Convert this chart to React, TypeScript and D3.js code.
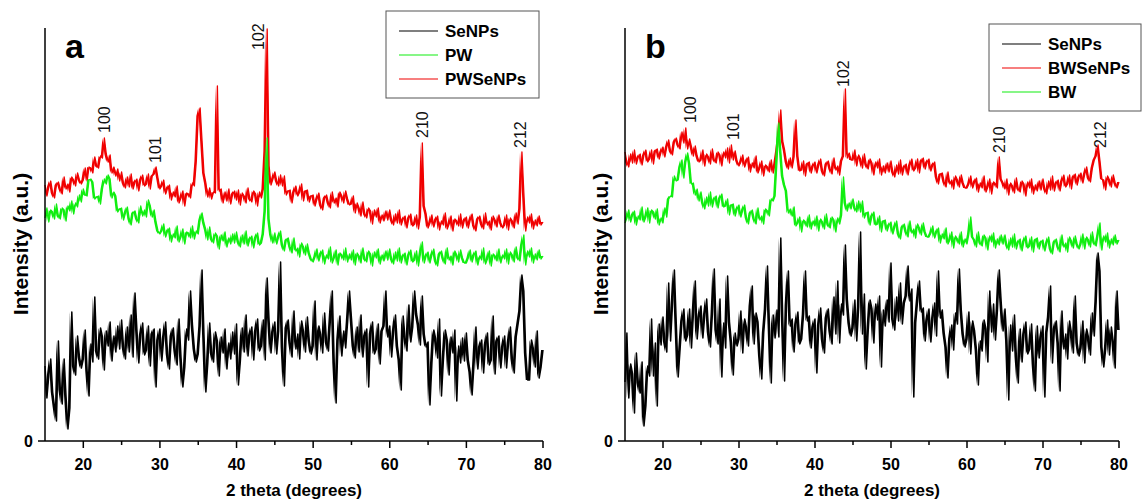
import React, { useEffect } from 'react';
import * as d3 from 'd3';

// XRD scans, sampled every 0.25 deg from 15 to 80 (2 theta), intensity in arbitrary units
const thetaStart = 15;
const thetaEnd = 80;
const thetaStep = 0.25;

// panel a
const seNPsA = [
    75, 43, 66, 82, 49, 34, 20, 100, 51, 37, 82, 44, 12, 33, 129, 75, 66, 105, 84, 73,
    82, 111, 70, 45, 97, 79, 144, 90, 82, 113, 104, 71, 110, 95, 119, 80, 105, 89, 115, 92,
    121, 94, 82, 114, 89, 126, 84, 148, 111, 78, 106, 118, 86, 91, 115, 75, 107, 112, 54, 101,
    112, 80, 103, 119, 87, 72, 105, 113, 90, 76, 122, 84, 54, 74, 112, 101, 150, 116, 92, 79,
    87, 115, 171, 106, 49, 78, 118, 88, 79, 109, 100, 65, 104, 88, 112, 72, 98, 82, 109, 87,
    117, 56, 80, 113, 89, 126, 85, 106, 114, 81, 109, 122, 90, 95, 121, 81, 163, 120, 88, 109,
    119, 87, 110, 179, 94, 55, 113, 121, 98, 84, 130, 92, 107, 82, 120, 109, 89, 124, 100, 87,
    95, 140, 81, 115, 106, 88, 128, 99, 90, 121, 150, 78, 38, 101, 125, 85, 110, 93, 119, 150,
    123, 95, 83, 114, 89, 126, 84, 105, 112, 54, 107, 119, 87, 92, 117, 77, 110, 115, 150, 104,
    115, 84, 109, 126, 95, 81, 51, 125, 103, 90, 136, 99, 114, 150, 127, 116, 96, 145, 107, 94,
    99, 36, 78, 111, 102, 83, 122, 45, 81, 111, 101, 66, 104, 88, 111, 40, 95, 78, 103, 80,
    108, 81, 69, 46, 77, 114, 72, 94, 101, 68, 96, 108, 76, 81, 125, 67, 100, 105, 73, 94,
    105, 73, 98, 114, 82, 68, 104, 117, 130, 166, 150, 88, 61, 61, 101, 92, 74, 110, 63, 74,
    91,
];
const pw = [
    223, 233, 219, 231, 229, 222, 237, 225, 222, 233, 231, 220, 235, 230, 240, 227, 238, 234, 246, 239,
    252, 246, 245, 261, 262, 259, 242, 244, 245, 237, 252, 262, 257, 266, 262, 243, 249, 245, 229, 232,
    233, 221, 228, 234, 222, 216, 228, 230, 222, 218, 235, 225, 231, 224, 241, 235, 224, 231, 219, 210,
    207, 210, 217, 204, 210, 213, 199, 207, 203, 215, 199, 204, 212, 197, 209, 208, 203, 215, 202, 210,
    207, 221, 228, 218, 211, 201, 214, 202, 198, 208, 205, 192, 206, 200, 209, 194, 203, 197, 207, 198,
    209, 199, 194, 206, 197, 210, 195, 202, 205, 193, 203, 208, 196, 198, 207, 230, 303, 222, 206, 198,
    208, 197, 204, 210, 196, 190, 201, 203, 194, 188, 203, 190, 193, 184, 198, 194, 186, 197, 188, 182,
    179, 184, 192, 180, 187, 191, 177, 186, 182, 194, 178, 183, 191, 176, 188, 186, 181, 193, 179, 187,
    181, 191, 176, 188, 185, 178, 193, 182, 179, 190, 187, 175, 189, 183, 192, 177, 186, 180, 190, 181,
    192, 182, 177, 189, 180, 193, 178, 185, 188, 176, 186, 191, 179, 181, 190, 175, 187, 199, 178, 185,
    189, 178, 186, 192, 180, 175, 187, 190, 182, 177, 193, 181, 185, 176, 190, 186, 179, 191, 183, 178,
    178, 183, 191, 179, 186, 190, 176, 185, 181, 193, 177, 182, 190, 175, 187, 185, 180, 192, 178, 186,
    182, 192, 177, 189, 186, 179, 194, 183, 180, 196, 206, 176, 190, 184, 193, 178, 187, 181, 191, 182,
    185,
];
const pwSeNPs = [
    256, 245, 254, 260, 248, 243, 256, 259, 252, 247, 264, 252, 257, 249, 264, 261, 255, 268, 261, 257,
    261, 273, 260, 274, 273, 268, 284, 275, 273, 285, 283, 303, 287, 279, 286, 268, 274, 265, 272, 260,
    269, 258, 253, 264, 254, 267, 252, 259, 262, 250, 261, 266, 255, 257, 267, 252, 265, 267, 274, 263,
    252, 255, 261, 247, 253, 256, 241, 249, 244, 255, 238, 243, 250, 235, 248, 247, 243, 258, 255, 280,
    325, 333, 300, 268, 258, 244, 253, 242, 249, 248, 355, 250, 252, 238, 249, 240, 252, 237, 247, 250,
    241, 251, 236, 248, 245, 238, 253, 242, 239, 250, 247, 235, 249, 243, 252, 290, 412, 275, 256, 262,
    269, 260, 255, 266, 255, 265, 246, 250, 251, 238, 249, 255, 245, 249, 257, 240, 250, 251, 239, 245,
    246, 235, 242, 248, 236, 231, 243, 246, 238, 233, 249, 238, 243, 234, 249, 245, 238, 250, 242, 236,
    237, 245, 228, 238, 233, 225, 239, 227, 223, 233, 230, 217, 231, 224, 233, 218, 226, 220, 230, 221,
    231, 221, 216, 227, 218, 231, 216, 222, 225, 213, 223, 227, 215, 217, 226, 212, 224, 298, 235, 227,
    213, 218, 226, 214, 221, 225, 211, 220, 216, 228, 212, 217, 225, 210, 222, 220, 215, 227, 213, 221,
    224, 213, 221, 227, 215, 210, 222, 225, 217, 212, 228, 216, 220, 211, 225, 221, 214, 226, 218, 213,
    216, 226, 211, 223, 220, 213, 228, 217, 232, 289, 248, 210, 224, 218, 227, 212, 221, 215, 225, 216,
    219,
];

// panel b
const seNPsB = [
    59, 108, 43, 77, 67, 28, 88, 58, 48, 79, 15, 35, 75, 65, 122, 65, 98, 35, 117, 96,
    124, 99, 89, 158, 100, 137, 171, 117, 64, 92, 120, 132, 100, 106, 132, 93, 127, 160, 102, 124,
    135, 103, 126, 142, 109, 94, 127, 172, 111, 97, 142, 64, 118, 93, 165, 119, 99, 66, 108, 95,
    102, 130, 88, 122, 113, 95, 135, 155, 97, 128, 119, 85, 62, 108, 132, 175, 117, 58, 126, 103,
    131, 104, 203, 124, 60, 136, 170, 115, 122, 89, 117, 129, 97, 102, 127, 170, 120, 125, 93, 114,
    122, 68, 116, 133, 102, 88, 123, 132, 110, 97, 144, 107, 160, 98, 137, 126, 196, 142, 118, 105,
    113, 141, 100, 134, 209, 107, 147, 72, 110, 141, 132, 98, 137, 121, 145, 74, 131, 115, 141, 119,
    178, 122, 111, 144, 120, 158, 117, 138, 145, 175, 140, 152, 44, 118, 140, 160, 129, 133, 100, 121,
    132, 99, 122, 138, 105, 170, 123, 131, 108, 94, 63, 102, 116, 91, 128, 117, 172, 131, 107, 94,
    102, 129, 87, 120, 110, 91, 56, 100, 90, 121, 112, 79, 150, 109, 137, 101, 130, 171, 139, 110,
    132, 101, 41, 116, 90, 126, 84, 58, 112, 79, 107, 119, 87, 92, 117, 77, 50, 115, 83, 104,
    115, 44, 108, 124, 155, 78, 112, 120, 98, 50, 130, 92, 107, 82, 120, 108, 88, 145, 98, 85,
    93, 120, 78, 112, 103, 86, 128, 105, 140, 188, 170, 94, 74, 92, 121, 86, 114, 99, 73, 150,
    111,
];
const bwSeNPs = [
    289, 279, 274, 287, 278, 291, 277, 284, 287, 276, 286, 291, 279, 282, 291, 277, 290, 292, 282, 289,
    294, 284, 294, 301, 290, 286, 299, 303, 296, 292, 309, 298, 313, 292, 302, 294, 285, 295, 285, 279,
    281, 291, 275, 287, 284, 277, 292, 281, 278, 289, 286, 275, 289, 283, 293, 278, 296, 281, 290, 280,
    275, 279, 286, 274, 280, 284, 269, 278, 273, 285, 268, 273, 280, 265, 276, 274, 269, 281, 268, 277,
    290, 305, 331, 300, 291, 279, 272, 283, 273, 284, 321, 285, 270, 271, 280, 265, 277, 279, 268, 275,
    279, 268, 276, 282, 270, 265, 277, 280, 272, 267, 283, 271, 275, 266, 280, 285, 352, 283, 288, 281,
    281, 291, 275, 286, 282, 273, 287, 276, 272, 282, 278, 266, 279, 273, 282, 266, 275, 268, 278, 269,
    280, 269, 264, 276, 267, 281, 266, 274, 277, 266, 276, 282, 270, 273, 282, 268, 280, 283, 272, 279,
    282, 270, 276, 279, 264, 257, 267, 268, 259, 254, 269, 257, 261, 252, 265, 261, 254, 266, 258, 253,
    253, 257, 265, 253, 259, 263, 249, 258, 253, 265, 249, 254, 262, 247, 259, 257, 253, 284, 262, 258,
    252, 262, 246, 258, 255, 248, 263, 252, 249, 260, 257, 245, 259, 253, 262, 247, 256, 250, 260, 251,
    262, 252, 247, 260, 251, 265, 250, 258, 261, 250, 260, 266, 254, 257, 266, 252, 264, 267, 256, 264,
    268, 258, 267, 274, 263, 259, 273, 281, 285, 296, 280, 262, 261, 251, 265, 261, 254, 266, 258, 253,
    259,
];
const bw = [
    218, 223, 231, 219, 226, 230, 216, 225, 221, 234, 219, 224, 233, 218, 231, 229, 222, 232, 216, 223,
    218, 233, 224, 242, 245, 244, 265, 260, 261, 274, 281, 263, 279, 288, 278, 257, 258, 246, 252, 240,
    249, 238, 232, 244, 235, 249, 234, 242, 245, 233, 243, 247, 234, 235, 242, 226, 236, 237, 225, 232,
    236, 224, 231, 236, 223, 217, 228, 231, 222, 217, 233, 221, 225, 217, 232, 230, 225, 242, 240, 245,
    280, 318, 290, 265, 256, 250, 228, 232, 225, 234, 215, 218, 224, 209, 221, 219, 214, 226, 212, 220,
    215, 225, 210, 222, 219, 212, 227, 216, 213, 224, 221, 209, 223, 217, 226, 264, 238, 230, 238, 232,
    242, 233, 229, 240, 229, 240, 223, 228, 229, 216, 225, 229, 216, 217, 225, 209, 220, 221, 210, 216,
    219, 207, 214, 220, 207, 202, 214, 217, 209, 204, 220, 208, 212, 203, 217, 213, 206, 218, 209, 204,
    204, 208, 215, 203, 209, 213, 198, 207, 202, 213, 197, 201, 209, 193, 205, 202, 197, 209, 194, 202,
    197, 207, 224, 204, 201, 194, 209, 198, 195, 206, 203, 191, 205, 199, 208, 193, 202, 196, 206, 197,
    206, 196, 191, 203, 194, 207, 192, 199, 202, 190, 200, 205, 193, 195, 204, 189, 201, 203, 192, 199,
    201, 190, 198, 204, 192, 187, 199, 202, 194, 189, 206, 194, 198, 189, 204, 200, 193, 205, 197, 192,
    197, 207, 192, 204, 201, 194, 209, 198, 195, 206, 218, 191, 205, 199, 208, 193, 202, 196, 206, 197,
    201,
];

// hkl reflections marked above the peaks
const hklLabels = ['100', '101', '102', '210', '212'];
const hklThetaA = [22.7, 29.4, 42.9, 64.3, 77.1];
const hklLevelA = [308, 278, 391, 303, 293];
const hklThetaB = [23.55, 29.2, 43.8, 64.3, 77.5];
const hklLevelB = [318, 301, 354, 288, 293];

const xMajorTicks = [20, 30, 40, 50, 60, 70, 80];
const xMinorTicks = [25, 35, 45, 55, 65, 75];
const yMax = 412;

const BLACK = '#000000';
const GREEN = '#10ee10';
const RED = '#f00000';
const FONT = '"Liberation Sans", Arial, sans-serif';

const TOP = 29;
const BOTTOM = 441;

const Panel = ({ letter, left, right, series, legend, labelTheta, labelLevel }) => {
    const x = d3.scaleLinear().domain([thetaStart, thetaEnd]).range([left, right]);
    const y = d3.scaleLinear().domain([0, yMax]).range([BOTTOM, TOP]);
    const line = d3.line<number>()
        .x((_, i) => x(thetaStart + i * thetaStep))
        .y((d) => y(d));
    // shade between each sample and the next one so the noisy scan reads as a dense trace
    const band = d3.area<number>()
        .x((_, i) => x(thetaStart + i * thetaStep))
        .y0((d) => y(d))
        .y1((d, i, arr) => y(arr[i + 1] ?? d));
    const midX = (left + right) / 2;

    return (
        <g>
            {/* draw order: black first, coloured scans on top */}
            {series.drawOrder.map((s) => (
                <g key={s.name}>
                    <path d={band(s.values) || ''} fill={s.color} stroke="none" />
                    <path d={line(s.values) || ''} fill="none" stroke={s.color} strokeWidth={s.width} strokeLinejoin="round" />
                </g>
            ))}

            {hklLabels.map((h, i) => (
                <text
                    key={h}
                    transform={`translate(${x(labelTheta[i])},${y(labelLevel[i])}) rotate(-90)`}
                    dy="0.35em"
                    fontSize={16}
                    fontFamily={FONT}
                    fill="#111"
                >{h}</text>
            ))}

            {/* axes */}
            <line x1={left} x2={left} y1={TOP - 1} y2={BOTTOM} stroke="#000" strokeWidth={1.5} />
            <line x1={left} x2={right} y1={BOTTOM} y2={BOTTOM} stroke="#000" strokeWidth={1.5} />
            <line x1={left - 7} x2={left} y1={BOTTOM} y2={BOTTOM} stroke="#000" strokeWidth={1.5} />
            <text x={left - 12} y={BOTTOM} dy="0.35em" textAnchor="end" fontSize={16} fontWeight="bold" fontFamily={FONT}>0</text>
            {xMajorTicks.map((t) => (
                <g key={t}>
                    <line x1={x(t)} x2={x(t)} y1={BOTTOM} y2={BOTTOM + 7} stroke="#000" strokeWidth={1.5} />
                    <text x={x(t)} y={470} textAnchor="middle" fontSize={16} fontWeight="bold" fontFamily={FONT}>{t}</text>
                </g>
            ))}
            {xMinorTicks.map((t) => (
                <line key={t} x1={x(t)} x2={x(t)} y1={BOTTOM} y2={BOTTOM + 4} stroke="#000" strokeWidth={1.5} />
            ))}
            <text x={midX} y={496} textAnchor="middle" fontSize={17} fontWeight="bold" fontFamily={FONT}>2 theta (degrees)</text>
            <text transform={`translate(${left - 17},244) rotate(-90)`} textAnchor="middle" fontSize={21} fontWeight="bold" fontFamily={FONT}>Intensity (a.u.)</text>

            <text x={left + 20} y={58} fontSize={34} fontWeight="bold" fontFamily={FONT}>{letter}</text>

            {/* legend */}
            <rect x={legend.x} y={legend.y} width={legend.w} height={87} fill="#fff" stroke="#555" strokeWidth={1} />
            {series.legendOrder.map((s, i) => (
                <g key={s.name} transform={`translate(${legend.x},${legend.y + 20 + i * 24})`}>
                    <line x1={13} x2={52} y1={0} y2={0} stroke={s.color} strokeWidth={1.2} />
                    <text x={59} y={0} dy="0.35em" fontSize={17} fontWeight="bold" fontFamily={FONT}>{s.name}</text>
                </g>
            ))}
        </g>
    );
};

export default function App() {
    useEffect(() => {
        document.body.style.margin = '0';
    }, []);

    const sA = { name: 'SeNPs', values: seNPsA, color: BLACK, width: 1.5 };
    const pwS = { name: 'PW', values: pw, color: GREEN, width: 1.3 };
    const pwSe = { name: 'PWSeNPs', values: pwSeNPs, color: RED, width: 1.3 };
    const sB = { name: 'SeNPs', values: seNPsB, color: BLACK, width: 1.5 };
    const bwSe = { name: 'BWSeNPs', values: bwSeNPs, color: RED, width: 1.3 };
    const bwS = { name: 'BW', values: bw, color: GREEN, width: 1.3 };

    return (
        <svg width={1142} height={502} style={{ display: 'block', background: '#fff' }}>
            <Panel
                letter="a"
                left={45}
                right={543}
                series={{ drawOrder: [sA, pwSe, pwS], legendOrder: [sA, pwS, pwSe] }}
                legend={{ x: 386, y: 11, w: 153 }}
                labelTheta={hklThetaA}
                labelLevel={hklLevelA}
            />
            <Panel
                letter="b"
                left={625}
                right={1119}
                series={{ drawOrder: [sB, bwSe, bwS], legendOrder: [sB, bwSe, bwS] }}
                legend={{ x: 989, y: 24, w: 152 }}
                labelTheta={hklThetaB}
                labelLevel={hklLevelB}
            />
        </svg>
    );
}
